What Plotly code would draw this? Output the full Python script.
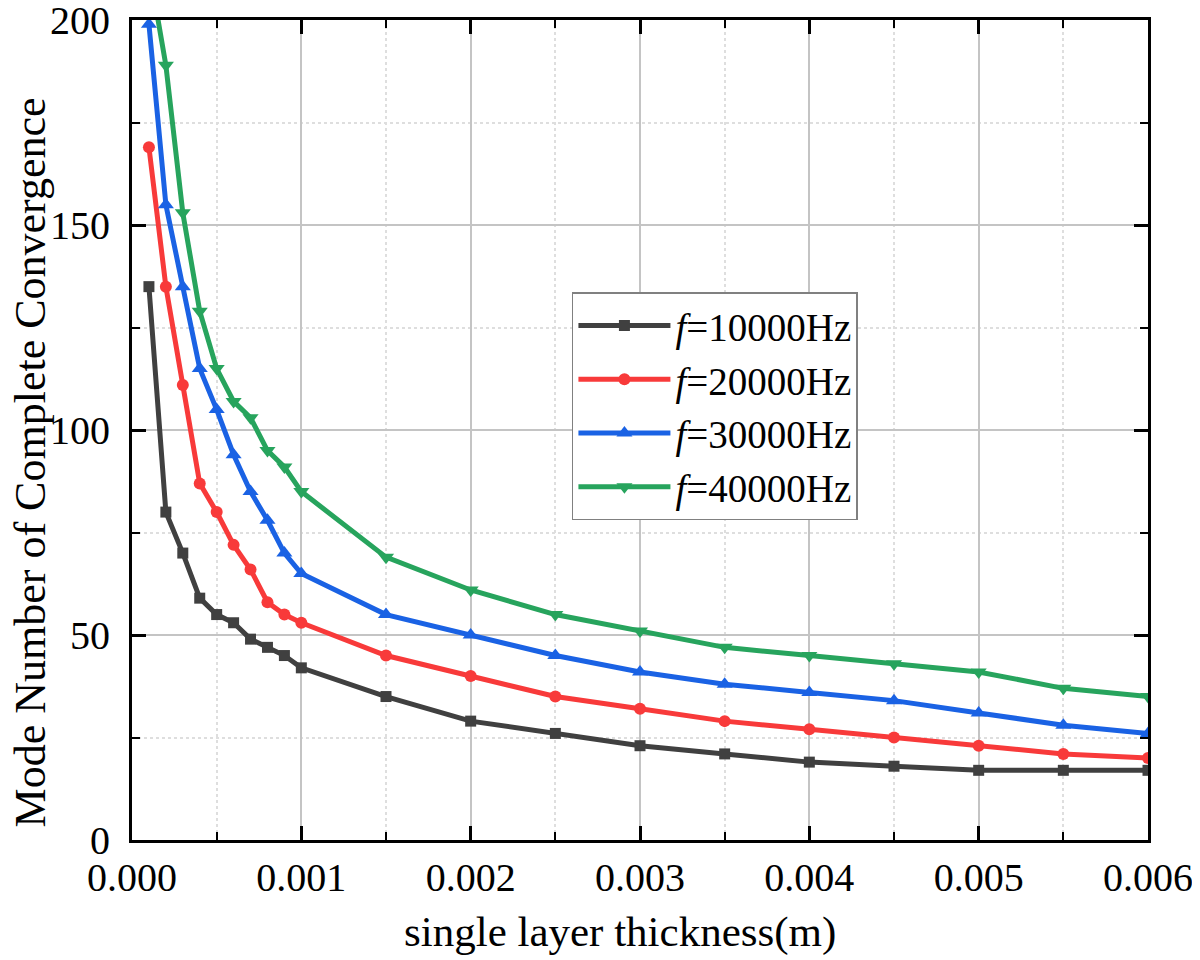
import plotly.graph_objects as go

thickness = [0.0001, 0.0002, 0.0003, 0.0004, 0.0005, 0.0006, 0.0007, 0.0008, 0.0009, 0.001,
             0.0015, 0.002, 0.0025, 0.003, 0.0035, 0.004, 0.0045, 0.005, 0.0055, 0.006]

f10000 = [135, 80, 70, 59, 55, 53, 49, 47, 45, 42, 35, 29, 26, 23, 21, 19, 18, 17, 17, 17]
f20000 = [169, 135, 111, 87, 80, 72, 66, 58, 55, 53, 45, 40, 35, 32, 29, 27, 25, 23, 21, 20]
f30000 = [199, 155, 135, 115, 105, 94, 85, 78, 70, 65, 55, 50, 45, 41, 38, 36, 34, 31, 28, 26]
f40000 = [213, 189, 153, 129, 115, 107, 103, 95, 91, 85, 69, 61, 55, 51, 47, 45, 43, 41, 37, 35]

series_names = ["<i>f</i>=10000Hz", "<i>f</i>=20000Hz", "<i>f</i>=30000Hz", "<i>f</i>=40000Hz"]
series_colors = ["#404040", "#f83a3a", "#1a62e4", "#27a45d"]
series_symbols = ["square", "circle", "triangle-up", "triangle-down"]
series_sizes = [11, 12, 14, 14]
series_values = [f10000, f20000, f30000, f40000]

x_ticks = [0.000, 0.001, 0.002, 0.003, 0.004, 0.005, 0.006]
y_ticks = [0, 50, 100, 150, 200]

x_title = "single layer thickness(m)"
y_title = "Mode Number of Complete Convergence"

FONT = "Liberation Serif, Times New Roman, serif"

fig = go.Figure()
for name, color, sym, size, vals in zip(series_names, series_colors, series_symbols, series_sizes, series_values):
    fig.add_trace(go.Scatter(
        x=thickness, y=vals, name=name, mode="lines+markers",
        line=dict(color=color, width=5),
        marker=dict(symbol=sym, size=size, color=color),
    ))

axis_common = dict(
    showline=True, linecolor="black", linewidth=3, mirror="ticks",
    ticks="inside", ticklen=14, tickwidth=2.5, tickcolor="black",
    showgrid=True, gridcolor="#c4c4c4", gridwidth=1.5,
    zeroline=False, ticklabeloverflow="allow", automargin=False,
    tickfont=dict(family=FONT, size=40, color="black"),
)

fig.update_xaxes(
    range=[0, 0.006], tickvals=x_ticks, ticktext=[f"{v:.3f}" for v in x_ticks],
    minor=dict(dtick=0.0005, ticks="inside", ticklen=8, tickwidth=2, tickcolor="black",
               showgrid=True, gridcolor="#dedede", griddash="dot", gridwidth=1.5),
    **axis_common,
)
fig.update_yaxes(
    range=[0, 200.05], tickvals=y_ticks, ticklabelstandoff=11,
    minor=dict(dtick=25, ticks="inside", ticklen=8, tickwidth=2, tickcolor="black",
               showgrid=True, gridcolor="#dedede", griddash="dot", gridwidth=1.5),
    **axis_common,
)

fig.add_annotation(
    text=x_title, xref="paper", yref="paper", x=0.480, y=-0.112,
    xanchor="center", yanchor="middle", showarrow=False,
    font=dict(family=FONT, size=43, color="black"),
)
fig.add_annotation(
    text=y_title, xref="paper", yref="paper", x=-0.099, y=0.461,
    xanchor="center", yanchor="middle", showarrow=False, textangle=-90,
    font=dict(family=FONT, size=44, color="black"),
)

fig.update_layout(
    width=1192, height=952,
    margin=dict(l=124, r=52, t=12, b=120),
    paper_bgcolor="white", plot_bgcolor="white",
    font=dict(family=FONT, color="black"),
    legend=dict(
        x=0.433, y=0.668, xanchor="left", yanchor="top",
        font=dict(family=FONT, size=39, color="black"),
        bordercolor="#808080", borderwidth=1.5, bgcolor="white",
        itemwidth=92, tracegroupgap=0,
    ),
    showlegend=True,
)

fig.write_html("out.html")
